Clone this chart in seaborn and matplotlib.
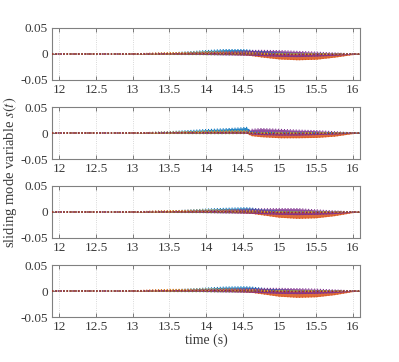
import numpy as np
import pandas as pd
import matplotlib
matplotlib.use("Agg")
import matplotlib.pyplot as plt
import seaborn as sns

# time knots (s)
T = [11.9, 12.5, 13.0, 13.25, 13.5, 13.75, 14.0, 14.25, 14.5, 14.55, 14.62,
     14.75, 15.0, 15.25, 15.5, 15.75, 16.0, 16.1]

# envelopes of each colour group, in units of 1e-3, one row per panel
BLUE_HI = [
    [0, 0, 0.2, 1, 2, 4, 6.5, 8.5, 8.5, 8, 7, 5, 2, 0.5, 0, 0, 0, 0],
    [0, 0, 0.2, 1, 2.5, 4.5, 6.5, 8, 10, 11, 2, 1, 0.3, 0, 0, 0, 0, 0],
    [0, 0, 0.2, 1, 2, 3.5, 5.5, 7, 8, 8, 7.5, 5, 1.5, 0.3, 0, 0, 0, 0],
    [0, 0, 0.2, 1, 2, 3.5, 5.5, 7.5, 8, 8, 7.5, 5.5, 2, 0.3, 0, 0, 0, 0],
]
BLUE_LO = [
    [0, 0, 0, 0, 0, 0, 0.3, 0.5, 0.5, 0.5, 0.3, 0, 0, 0, 0, 0, 0, 0],
    [0, 0, 0, 0, 0, 0, 0.5, 1, 1.5, 1.5, 0, 0, 0, 0, 0, 0, 0, 0],
    [0, 0, 0, 0, 0, 0, 0.3, 0.5, 0.5, 0.5, 0.3, 0, 0, 0, 0, 0, 0, 0],
    [0, 0, 0, 0, 0, 0, 0.3, 0.5, 0.5, 0.5, 0.3, 0, 0, 0, 0, 0, 0, 0],
]
ORANGE_HI = [
    [0, 0, 0.3, 1.5, 2.5, 3, 3, 2.5, 1, 0.5, 0, -1, -1.5, -1.5, -1.5, -1, 0, 0],
    [0, 0, 0.2, 1, 1.5, 2, 2, 2, 1.5, 1, -1, -1.5, -2, -2, -1.5, -1, 0, 0],
    [0, 0, 0.3, 1.5, 2.5, 3, 3, 2.5, 1, 0.5, 0, -1, -1.5, -1.5, -1.5, -1, 0, 0],
    [0, 0, 0.3, 2, 3, 3, 3, 2.5, 1, 0.5, 0, -1, -1.5, -1.5, -1.5, -1, 0, 0],
]
ORANGE_LO = [
    [0, 0, 0, 0, 0, 0, 0, -0.5, -1.5, -2, -3, -5.5, -9.5, -11, -10, -6, -1, 0],
    [0, 0, 0, 0, 0, 0, 0, 0, 0, 0, -5, -7, -9, -9, -8.5, -6, -1, 0],
    [0, 0, 0, 0, 0, 0, 0, -0.5, -1.5, -2, -2.5, -5, -10, -12, -11, -7, -1, 0],
    [0, 0, 0, 0, 0, 0, 0, -0.5, -1.5, -2, -2.5, -5, -10, -12, -11, -7, -1, 0],
]
YELLOW_HI = [
    [0, 0, 0.2, 1, 2, 3, 4.5, 5, 4, 3.5, 3, 1.5, 0.5, 0, 0, 0, 0, 0],
    [0, 0, 0.2, 1, 1.5, 2.5, 3.5, 4, 4.5, 4.5, 0.5, 0, 0, 0, 0, 0, 0, 0],
    [0, 0, 0.2, 1, 2, 3, 4, 4.5, 4, 3.5, 3, 1.5, 0.5, 0, 0, 0, 0, 0],
    [0, 0, 0.2, 1, 2, 3, 4, 4.5, 4, 3.5, 3, 1.5, 0.5, 0, 0, 0, 0, 0],
]
YELLOW_LO = [
    [0, 0, 0, 0, 0, 0.5, 1, 1.5, 1, 1, 0.5, 0, 0, 0, 0, 0, 0, 0],
    [0, 0, 0, 0, 0, 0.5, 1, 1.5, 2, 2, 0, 0, 0, 0, 0, 0, 0, 0],
    [0, 0, 0, 0, 0, 0.5, 1, 1.5, 1, 1, 0.5, 0, 0, 0, 0, 0, 0, 0],
    [0, 0, 0, 0, 0, 0.5, 1, 1.5, 1, 1, 0.5, 0, 0, 0, 0, 0, 0, 0],
]
PURPLE_HI = [
    [0, 0, 0, 0.3, 0.8, 1.5, 2.5, 4, 6, 6.5, 6.8, 7, 6.5, 5, 3.5, 2, 0.3, 0],
    [0, 0, 0, 0, 0.3, 0.5, 1, 1.5, 2, 2, 7, 8.5, 7, 5.5, 4.5, 2.5, 0.3, 0],
    [0, 0, 0, 0.3, 0.8, 1.5, 2.5, 3.5, 5, 5.5, 5.8, 6, 6.5, 6.5, 4, 2, 0.3, 0],
    [0, 0, 0, 0.3, 0.8, 1.5, 2.5, 3.5, 4.5, 5, 5, 5, 5, 4.5, 3.5, 2, 0.3, 0],
]
PURPLE_LO = [
    [0, 0, 0, 0, 0, -0.5, -1, -1.5, -2, -2, -2.5, -3, -4.5, -5, -4, -2.5, -0.5, 0],
    [0, 0, 0, 0, 0, 0, -0.5, -0.5, -0.5, -0.5, -2, -3, -4, -4, -3, -2, -0.3, 0],
    [0, 0, 0, 0, 0, -0.5, -1, -1.5, -2, -2, -2.5, -3, -4.5, -5, -4.5, -3, -0.5, 0],
    [0, 0, 0, 0, 0, -0.5, -1, -1.5, -2, -2, -2.5, -3, -4.5, -5, -4.5, -3, -0.5, 0],
]
GREEN_LINE = [
    [0, 0, 0, -0.3, -0.6, -0.8, -1, -1, -0.8, -0.7, -0.5, -0.3, 0, 0, 0, 0, 0, 0],
    [0, 0, 0, -0.3, -0.6, -0.8, -1, -1, -0.8, -0.7, -0.3, 0, 0, 0, 0, 0, 0, 0],
    [0, 0, 0, -0.3, -0.6, -0.8, -1, -1, -0.8, -0.7, -0.5, -0.3, 0, 0, 0, 0, 0, 0],
    [0, 0, 0, -0.3, -0.8, -1, -1.2, -1.2, -1, -0.8, -0.5, -0.3, 0, 0, 0, 0, 0, 0],
]
DARKRED_LINE = [
    [0, 0, 0, 0, 0.2, 0.3, 0.5, 0.5, 0.3, 0.2, 0, -0.5, -1, -1, -0.8, -0.5, 0, 0],
    [0, 0, 0, 0, 0.2, 0.3, 0.5, 0.5, 0.3, 0.2, -0.5, -1, -1, -1, -0.8, -0.5, 0, 0],
    [0, 0, 0, 0, 0.2, 0.3, 0.5, 0.5, 0.3, 0.2, 0, -0.5, -1, -1, -0.8, -0.5, 0, 0],
    [0, 0, 0, 0, 0.2, 0.3, 0.5, 0.5, 0.3, 0.2, 0, -0.5, -1, -1, -0.8, -0.5, 0, 0],
]

X_TICKS = [12, 12.5, 13, 13.5, 14, 14.5, 15, 15.5, 16]
X_TICK_LABELS = ["12", "12.5", "13", "13.5", "14", "14.5", "15", "15.5", "16"]
Y_TICKS = [-0.05, 0, 0.05]
Y_TICK_LABELS = ["-0.05", "0", "0.05"]
X_LABEL = "time (s)"
Y_LABEL = "sliding mode variable $s(t)$"

COLORS = {"blue": "#0072BD", "orange": "#D95319", "yellow": "#EDB120",
          "purple": "#7E2F8E", "green": "#77AC30", "darkred": "#A2142F"}

sns.set_theme(style="white")
plt.rcParams["font.family"] = ["Liberation Serif", "DejaVu Serif"]
plt.rcParams["mathtext.fontset"] = "stix"
plt.rcParams["axes.unicode_minus"] = False

bands = [("blue", BLUE_HI, BLUE_LO), ("orange", ORANGE_HI, ORANGE_LO),
         ("yellow", YELLOW_HI, YELLOW_LO), ("purple", PURPLE_HI, PURPLE_LO)]

fig = plt.figure(figsize=(3.99, 3.62), dpi=100)
left, width, height = 52 / 399, 308 / 399, 52 / 362
tops = [28, 107, 186, 265]
TXT = "#3a3a3a"

for p, top in enumerate(tops):
    ax = fig.add_axes([left, 1 - (top + 52) / 362, width, height])
    rows = []
    for name, hi, lo in bands:
        for t, h, l in zip(T, hi[p], lo[p]):
            rows.append((t, h * 1e-3, name, "hi"))
            rows.append((t, l * 1e-3, name, "lo"))
    df = pd.DataFrame(rows, columns=["t", "s", "grp", "bound"])
    for name, hi, lo in bands:
        sub = df[df.grp == name]
        h = sub[sub.bound == "hi"]
        l = sub[sub.bound == "lo"]
        ax.fill_between(h.t.values, l.s.values, h.s.values,
                        color=COLORS[name], alpha=0.85, lw=0, zorder=2)
    sns.lineplot(data=df, x="t", y="s", hue="grp", units="bound",
                 estimator=None, palette=COLORS, linestyle=":", lw=0.8,
                 legend=False, ax=ax, zorder=3)
    line_df = pd.DataFrame({"t": T + T,
                            "s": list(np.array(GREEN_LINE[p]) * 1e-3)
                            + list(np.array(DARKRED_LINE[p]) * 1e-3),
                            "grp": ["green"] * len(T) + ["darkred"] * len(T)})
    sns.lineplot(data=line_df, x="t", y="s", hue="grp", palette=COLORS,
                 linestyle=":", lw=1.0, legend=False, ax=ax, zorder=4)

    ax.set_xlim(11.9, 16.1)
    ax.set_ylim(-0.05, 0.05)
    ax.set_xticks(X_TICKS)
    ax.set_xticklabels(X_TICK_LABELS)
    ax.set_yticks(Y_TICKS)
    ax.set_yticklabels(Y_TICK_LABELS)
    ax.set_xlabel("")
    ax.set_ylabel("")
    ax.grid(True, axis="x", linestyle=":", color="#cccccc", lw=0.6)
    ax.tick_params(direction="in", length=3, width=0.6, colors="#666666",
                   labelcolor=TXT, labelsize=9.5, pad=3,
                   top=True, right=True, bottom=True, left=True)
    for sp in ax.spines.values():
        sp.set_color("#808080")
        sp.set_linewidth(0.8)

fig.text(206 / 399, 1 - 340 / 362, X_LABEL, ha="center", va="center",
         fontsize=10, color=TXT)
fig.text(10 / 399, 1 - 172 / 362, Y_LABEL, ha="center", va="center",
         rotation=90, fontsize=10.5, color=TXT)

fig.savefig("out.png", dpi=100)
